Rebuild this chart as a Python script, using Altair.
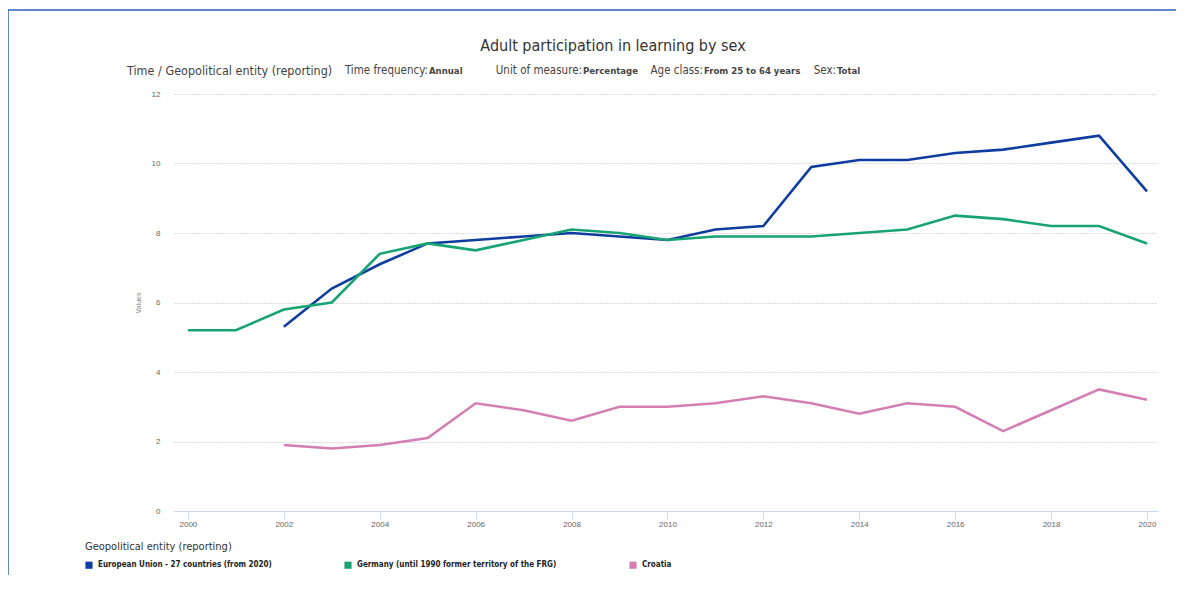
import altair as alt
import pandas as pd

years = list(range(2000, 2021))
eu = [None, None, 5.3, 6.4, 7.1, 7.7, 7.8, 7.9, 8.0, 7.9, 7.8, 8.1, 8.2, 9.9, 10.1, 10.1, 10.3, 10.4, 10.6, 10.8, 9.2]
de = [5.2, 5.2, 5.8, 6.0, 7.4, 7.7, 7.5, 7.8, 8.1, 8.0, 7.8, 7.9, 7.9, 7.9, 8.0, 8.1, 8.5, 8.4, 8.2, 8.2, 7.7]
hr = [None, None, 1.9, 1.8, 1.9, 2.1, 3.1, 2.9, 2.6, 3.0, 3.0, 3.1, 3.3, 3.1, 2.8, 3.1, 3.0, 2.3, 2.9, 3.5, 3.2]
series_names = [
    "European Union - 27 countries (from 2020)",
    "Germany (until 1990 former territory of the FRG)",
    "Croatia",
]
colors = ["#0f3d9f", "#17a374", "#d47fb2"]
x_ticks = list(range(2000, 2021, 2))
y_ticks = [0, 2, 4, 6, 8, 10, 12]

rows = []
for name, vals in zip(series_names, [eu, de, hr]):
    for yr, v in zip(years, vals):
        if v is not None:
            rows.append({"year": yr, "value": v, "geo": name})
df = pd.DataFrame(rows)

NARROW = "Liberation Sans Narrow, Arial Narrow, DejaVu Sans Condensed, sans-serif"
W, H = 984, 417

lines = alt.Chart(df).mark_line(strokeWidth=2.6).encode(
    x=alt.X("year:Q",
            scale=alt.Scale(domain=[1999.71, 2020.23], nice=False, zero=False),
            axis=alt.Axis(values=x_ticks, format="d", title=None, grid=False,
                          domainColor="#ccd6eb", tickColor="#ccd6eb", tickSize=8,
                          labelPadding=1, labelFontSize=8, labelColor="#666666",
                          labelFont="Liberation Sans")),
    y=alt.Y("value:Q",
            scale=alt.Scale(domain=[0, 12], nice=False),
            axis=alt.Axis(values=y_ticks, title="Values", domain=False, ticks=False,
                          labelPadding=14, labelFontSize=8, labelColor="#666666",
                          labelFont="Liberation Sans", gridColor="#b8b8b8",
                          gridDash=[1, 2], gridWidth=1, titleFontSize=7,
                          titleColor="#888888", titleFontWeight="normal",
                          titlePadding=10, titleFont="Liberation Sans")),
    color=alt.Color("geo:N",
                    scale=alt.Scale(domain=series_names, range=colors),
                    sort=series_names,
                    legend=alt.Legend(title="Geopolitical entity (reporting)",
                                      orient="none", legendX=-89, legendY=447,
                                      direction="horizontal", columns=3,
                                      columnPadding=66, symbolType="square",
                                      symbolSize=10, symbolStrokeWidth=4,
                                      labelFont=NARROW, labelFontWeight="bold",
                                      labelFontSize=8, labelColor="#222222",
                                      labelLimit=0, labelOffset=5,
                                      titleFont=NARROW, titleFontSize=11,
                                      titleFontWeight="normal",
                                      titleColor="#333333", titlePadding=9)),
)

def text_layer(txt, x, y, size, bold=False, align="left", color="#333333"):
    return alt.Chart(pd.DataFrame({"t": [txt]})).mark_text(
        align=align, baseline="middle", font=NARROW, fontSize=size,
        fontWeight="bold" if bold else "normal", color=color,
    ).encode(text="t:N", x=alt.value(x), y=alt.value(y))

layers = [lines]
layers.append(text_layer("Adult participation in learning by sex", 439, -48, 16, align="center"))
# (text, x, size, bold, align)
subtitle = [
    ("Time / Geopolitical entity (reporting)", -47, 12.5, False, "left"),
    ("Time frequency:", 254, 11.5, False, "right"),
    ("Annual", 255, 9.5, True, "left"),
    ("Unit of measure:", 408, 11.5, False, "right"),
    ("Percentage", 409, 9.5, True, "left"),
    ("Age class:", 529, 11.5, False, "right"),
    ("From 25 to 64 years", 530, 9.5, True, "left"),
    ("Sex:", 662, 11.5, False, "right"),
    ("Total", 663, 9.5, True, "left"),
]
for txt, x, s, b, al in subtitle:
    layers.append(text_layer(txt, x, -23, s, bold=b, align=al, color="#444444"))

frame_df = pd.DataFrame({"k": [0]})
frame_top = alt.Chart(frame_df).mark_rule(color="#2f5fb3", strokeWidth=1.5).encode(
    x=alt.value(-166), x2=alt.value(1030), y=alt.value(-84))
frame_left = alt.Chart(frame_df).mark_rule(color="#2f5fb3", strokeWidth=1.5).encode(
    x=alt.value(-166), y=alt.value(-84), y2=alt.value(520))
layers += [frame_top, frame_left]

chart = alt.layer(*layers).properties(
    width=W, height=H,
    background="white",
    autosize=alt.AutoSizeParams(type="none"),
    padding={"left": 166, "top": 86, "right": 18, "bottom": 64},
).configure_view(stroke="transparent", strokeWidth=0)

chart.save("out.html", embed_options={"renderer": "svg", "actions": False})
